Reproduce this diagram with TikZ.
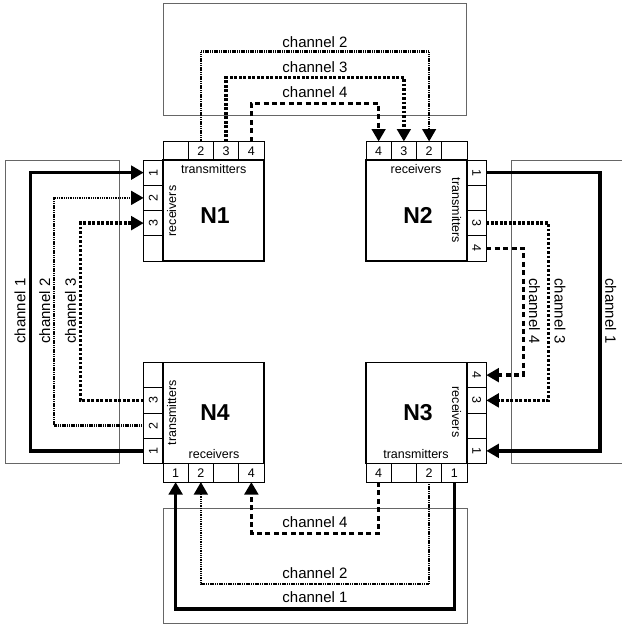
\documentclass[tikz,border=0pt]{standalone}
\usepackage{fontspec}
\setmainfont{Liberation Sans}
\usetikzlibrary{arrows.meta}
\newcommand\portfont{\fontsize{12.5}{14}\selectfont}
\newcommand\chfont{\fontsize{15}{17}\selectfont}
\begin{document}
\begin{tikzpicture}[x=1pt,y=-1pt,
  chbox/.style={draw=black!60, line width=0.9pt},
  mainbox/.style={draw, line width=1.4pt, minimum width=101pt, minimum height=101pt, inner sep=0pt, outer sep=0pt},
  cellh/.style={draw, line width=0.9pt, minimum width=25.25pt, minimum height=18.5pt, inner sep=0pt, outer sep=0pt, font=\portfont},
  cellv/.style={draw, line width=0.9pt, minimum width=19.3pt, minimum height=25.25pt, inner sep=0pt, outer sep=0pt},
  vlbl/.style={rotate=#1, font=\portfont, inner sep=0pt},
  intxt/.style={font=\portfont, inner sep=0pt},
  nlbl/.style={font=\fontsize{23}{26}\selectfont\bfseries, inner sep=0pt},
  chlbl/.style={font=\chfont, inner sep=0pt},
  tipend/.style={-{Triangle[length=12.5pt,width=13.5pt]}},
  chone/.style={line width=3.3pt, tipend},
  chtwo/.style={line width=2.7pt, dash pattern=on 1.1pt off 0.7pt, tipend},
  chthree/.style={line width=3.3pt, dash pattern=on 2.8pt off 1.7pt, tipend},
  chfour/.style={line width=3.3pt, dash pattern=on 5pt off 3.4pt, tipend}
]
\useasboundingbox (0,0) rectangle (621,626);

% channel boxes
\draw[chbox] (163,3) rectangle (466,115);
\draw[chbox] (5,160) rectangle (119,463);
\draw[chbox] (511,160) rectangle (630,463);
\draw[chbox] (163,508) rectangle (467,623);

% main boxes
\node[mainbox] (n1) at (213.5,210.5) {};
\node[mainbox] (n2) at (416.5,210.5) {};
\node[mainbox] (n3) at (416.5,413) {};
\node[mainbox] (n4) at (213.5,413) {};

% N1 ports
\foreach \i/\p/\t in {0/b/{},1/2/2,2/3/3,3/4/4}
  \node[cellh] (n1t\p) at (175.625+\i*25.25,150.75) {\t};
\foreach \i/\p/\t in {0/1/1,1/2/2,2/3/3,3/b/{}}
  \node[cellv, label={[vlbl=90]center:\t}] (n1l\p) at (153.35,172.625+\i*25.25) {};
% N2 ports
\foreach \i/\p/\t in {0/4/4,1/3/3,2/2/2,3/b/{}}
  \node[cellh] (n2t\p) at (378.625+\i*25.25,150.75) {\t};
\foreach \i/\p/\t in {0/1/1,1/b/{},2/3/3,3/4/4}
  \node[cellv, label={[vlbl=-90]center:\t}] (n2r\p) at (476.65,172.625+\i*25.25) {};
% N3 ports
\foreach \i/\p/\t in {0/4/4,1/3/3,2/b/{},3/1/1}
  \node[cellv, label={[vlbl=-90]center:\t}] (n3r\p) at (476.65,375.125+\i*25.25) {};
\foreach \i/\p/\t in {0/4/4,1/b/{},2/2/2,3/1/1}
  \node[cellh] (n3b\p) at (378.625+\i*25.25,472.75) {\t};
% N4 ports
\foreach \i/\p/\t in {0/b/{},1/3/3,2/2/2,3/1/1}
  \node[cellv, label={[vlbl=90]center:\t}] (n4l\p) at (153.35,375.125+\i*25.25) {};
\foreach \i/\p/\t in {0/1/1,1/2/2,2/b/{},3/4/4}
  \node[cellh] (n4b\p) at (175.625+\i*25.25,472.75) {\t};

% inner texts
\node[intxt] (n1tx) at (213.7,169) {transmitters};
\node[intxt, rotate=90] (n1rx) at (171.7,211) {receivers};
\node[nlbl] (n1n) at (215,215.5) {N1};
\node[intxt] (n2rx) at (416,169) {receivers};
\node[intxt, rotate=-90] (n2tx) at (456.7,210.5) {transmitters};
\node[nlbl] (n2n) at (418,215.5) {N2};
\node[intxt, rotate=-90] (n3rx) at (456.7,412) {receivers};
\node[intxt] (n3tx) at (416,454) {transmitters};
\node[nlbl] (n3n) at (418,413) {N3};
\node[intxt, rotate=90] (n4tx) at (171.7,412.8) {transmitters};
\node[intxt] (n4rx) at (214,454) {receivers};
\node[nlbl] (n4n) at (215,413) {N4};

% routing coordinates
\coordinate (c2t) at (315,51.7);
\coordinate (c3t) at (315,77.7);
\coordinate (c4t) at (315,103.3);
\coordinate (c1l) at (30.7,311);
\coordinate (c2l) at (54,311);
\coordinate (c3l) at (80.7,311);
\coordinate (c1r) at (600,311);
\coordinate (c3r) at (548.3,311);
\coordinate (c4r) at (523.3,311);
\coordinate (c4b) at (315,533.3);
\coordinate (c2b) at (315,584);
\coordinate (c1b) at (315,609);

% top connectors
\draw[chtwo] (n1t2.north) |- (c2t) -| (n2t2.north);
\draw[chthree] (n1t3.north) |- (c3t) -| (n2t3.north);
\draw[chfour] (n1t4.north) |- (c4t) -| (n2t4.north);
% left connectors
\draw[chone] (n4l1.west) -| (c1l) |- (n1l1.west);
\draw[chtwo] (n4l2.west) -| (c2l) |- (n1l2.west);
\draw[chthree] (n4l3.west) -| (c3l) |- (n1l3.west);
% right connectors
\draw[chone] (n2r1.east) -| (c1r) |- (n3r1.east);
\draw[chthree] (n2r3.east) -| (c3r) |- (n3r3.east);
\draw[chfour] (n2r4.east) -| (c4r) |- (n3r4.east);
% bottom connectors
\draw[chone] (n3b1.south) |- (c1b) -| (n4b1.south);
\draw[chtwo] (n3b2.south) |- (c2b) -| (n4b2.south);
\draw[chfour] (n3b4.south) |- (c4b) -| (n4b4.south);

% channel labels
\node[chlbl] (l2t) at (315,41.7) {channel 2};
\node[chlbl] (l3t) at (315,66.7) {channel 3};
\node[chlbl] (l4t) at (315,91.7) {channel 4};
\node[chlbl, rotate=90] (l1l) at (20,311) {channel 1};
\node[chlbl, rotate=90] (l2l) at (44.7,311) {channel 2};
\node[chlbl, rotate=90] (l3l) at (70.5,311) {channel 3};
\node[chlbl, rotate=-90] (l1r) at (610.8,311) {channel 1};
\node[chlbl, rotate=-90] (l3r) at (560,311) {channel 3};
\node[chlbl, rotate=-90] (l4r) at (534.5,311) {channel 4};
\node[chlbl] (l4b) at (315,522) {channel 4};
\node[chlbl] (l2b) at (315,573) {channel 2};
\node[chlbl] (l1b) at (315,597.5) {channel 1};
\end{tikzpicture}
\end{document}
